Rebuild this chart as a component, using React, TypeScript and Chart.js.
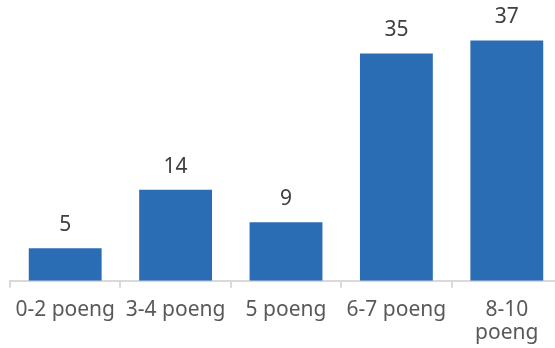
import React, { useEffect, useRef } from "react";
import { Chart, registerables } from "chart.js";

Chart.register(...registerables);

const categories: (string | string[])[] = ["0-2 poeng", "3-4 poeng", "5 poeng", "6-7 poeng", ["8-10", "poeng"]];
const values = [5, 14, 9, 35, 37];
const barColor = "#2B6DB4";
const FONT = "'Noto Sans', sans-serif";

const labelPlugin = {
  id: "barLabels",
  afterDatasetsDraw(chart: any) {
    const ctx = chart.ctx;
    const meta = chart.getDatasetMeta(0);
    ctx.save();
    ctx.font = `21px ${FONT}`;
    ctx.fillStyle = "#404040";
    ctx.textAlign = "center";
    ctx.textBaseline = "alphabetic";
    meta.data.forEach((bar: any, i: number) => {
      ctx.fillText(String(values[i]), bar.x, bar.y - 17);
    });
    ctx.restore();
  },
};

export default function App() {
  const ref = useRef<HTMLCanvasElement>(null);
  useEffect(() => {
    if (!ref.current) return;
    document.documentElement.style.overflow = "hidden";
    document.body.style.overflow = "hidden";
    document.body.style.margin = "0";
    const chart = new Chart(ref.current, {
      type: "bar",
      data: {
        labels: categories,
        datasets: [
          {
            data: values,
            backgroundColor: barColor,
            borderWidth: 0,
            categoryPercentage: 1,
            barPercentage: 0.66,
          },
        ],
      },
      options: {
        responsive: false,
        animation: false,
        devicePixelRatio: 1,
        layout: { padding: { left: 10, right: 10, top: 21, bottom: 3 } },
        plugins: { legend: { display: false }, tooltip: { enabled: false } },
        scales: {
          x: {
            grid: {
              offset: true,
              drawOnChartArea: false,
              drawTicks: true,
              tickLength: 7,
              color: "#D9D9D9",
              lineWidth: 2,
            },
            border: { color: "#D9D9D9", width: 2 },
            ticks: {
              color: "#595959",
              font: { family: "'Noto Sans', sans-serif", size: 21, lineHeight: 1.1 },
              padding: 11,
              maxRotation: 0,
              autoSkip: false,
            },
          },
          y: {
            display: false,
            min: 0,
            max: 40,
          },
        },
      },
      plugins: [labelPlugin],
    });
    return () => chart.destroy();
  }, []);
  return (
    <div style={{ position: "fixed", left: 0, top: 0, width: 555, height: 348, overflow: "hidden", background: "#fff" }}>
      <canvas ref={ref} width={572} height={359} style={{ position: "absolute", left: 0, top: 0 }} />
    </div>
  );
}
